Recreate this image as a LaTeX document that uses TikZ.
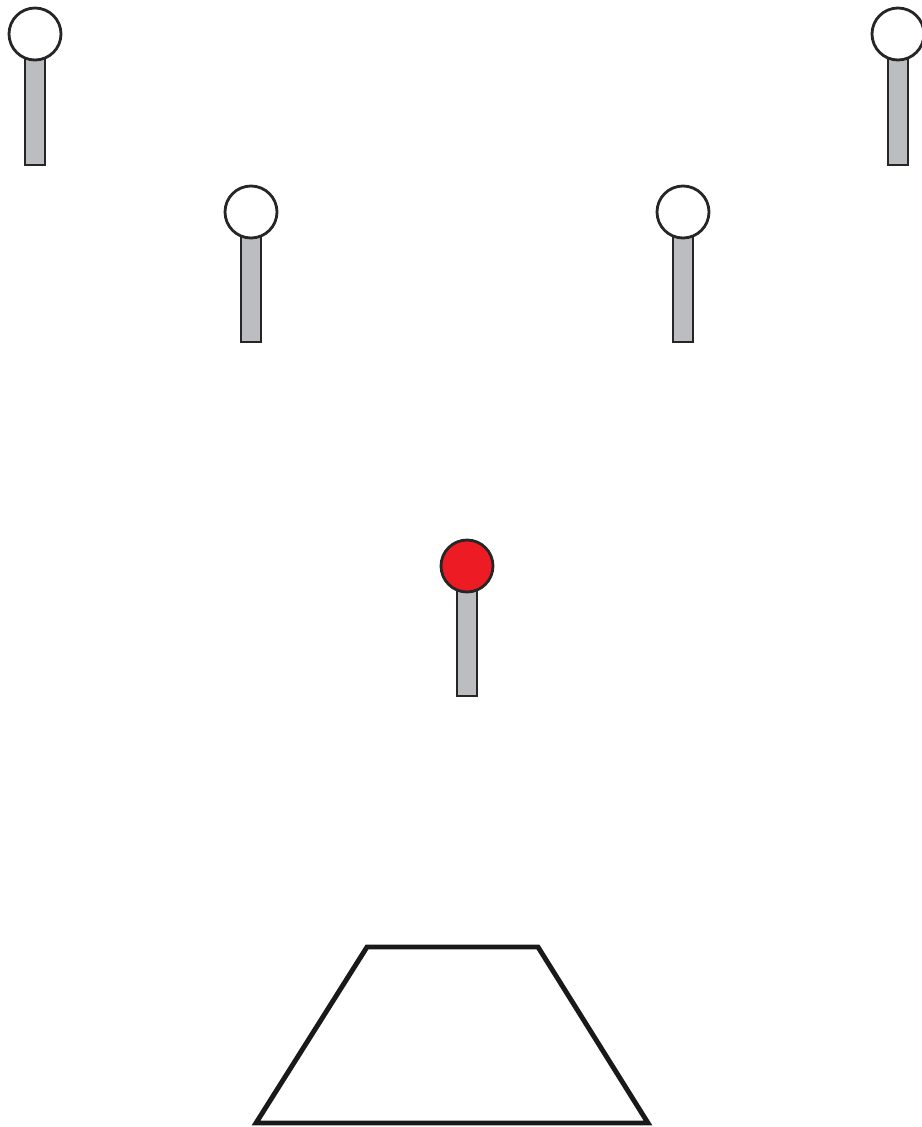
\documentclass[tikz,border=0pt]{standalone}
\usepackage{tikz}
\usepackage{xcolor}
\definecolor{stemgrey}{RGB}{188,189,193}
\definecolor{pinred}{RGB}{237,28,36}

\begin{document}
\begin{tikzpicture}[x=0.02cm, y=-0.02cm,
    stem/.style={draw=black!85, line width=1.6pt, fill=stemgrey},
    knob/.style={draw=black!85, line width=1.6pt, fill=white}]
        \useasboundingbox (0,0) rectangle (921,1127);
        % back row
        \draw[stem] (25,34) rectangle (45,165);
        \draw[knob] (35,34) circle (26);
        \draw[stem] (888,34) rectangle (908,165);
        \draw[knob] (898,34) circle (26);
        % middle row
        \draw[stem] (241,212) rectangle (261,342);
        \draw[knob] (251,212) circle (26);
        \draw[stem] (673,212) rectangle (693,342);
        \draw[knob] (683,212) circle (26);
        % red one
        \draw[stem] (457,566) rectangle (477,696);
        \draw[knob, fill=pinred] (467,566) circle (26);
        % base
        \draw[line width=2.8pt, black!90, line join=miter]
          (367,947) -- (538,947) -- (648,1123) -- (256,1123) -- cycle;
      \end{tikzpicture}
\end{document}
